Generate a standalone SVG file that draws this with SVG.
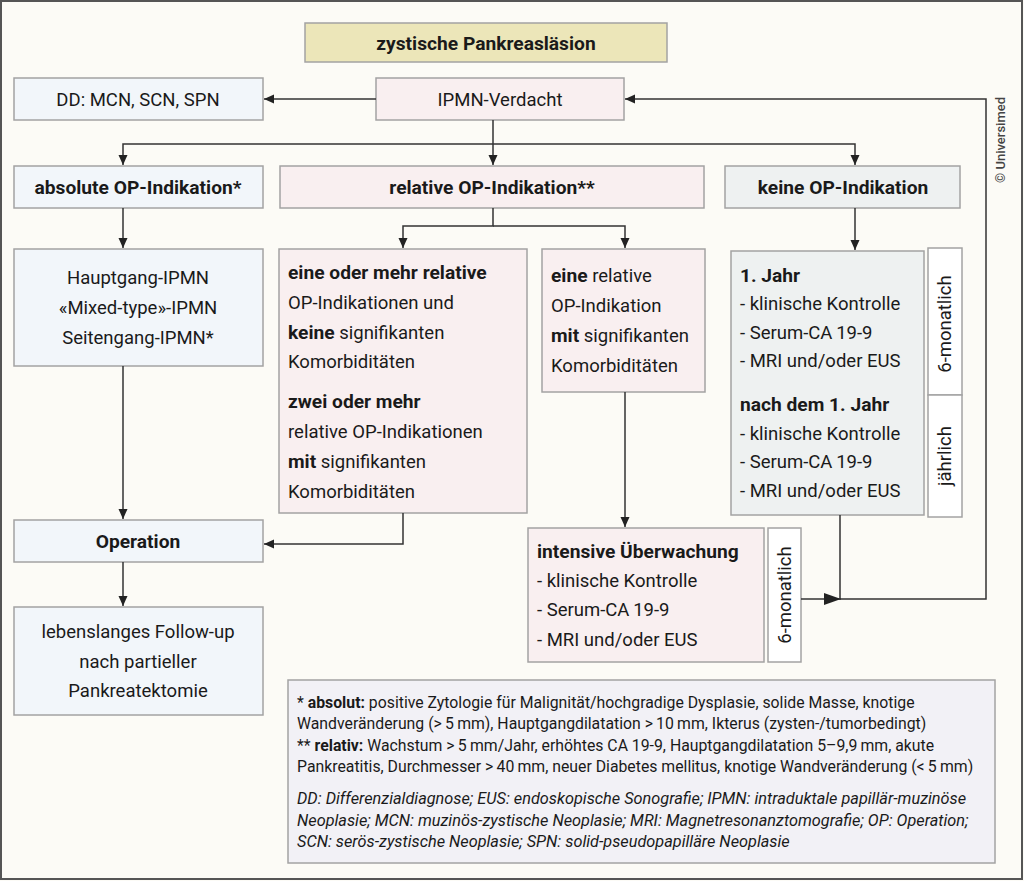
<svg xmlns="http://www.w3.org/2000/svg" width="1024" height="881" viewBox="0 0 1024 881">
<defs>
<marker id="ah" markerWidth="10" markerHeight="10" viewBox="0 0 10 10" refX="10" refY="5" orient="auto" markerUnits="userSpaceOnUse">
<path d="M0,0.5 L10,5 L0,9.5 z" fill="#222"/>
</marker>
<marker id="ahb" markerWidth="17" markerHeight="12" viewBox="0 0 17 12" refX="17" refY="6" orient="auto" markerUnits="userSpaceOnUse">
<path d="M0,0 L17,6 L0,12 z" fill="#222"/>
</marker>
<style>
text{font-family:Roboto,"Liberation Sans",sans-serif;fill:#1a1a1a;font-size:18.5px}
.b{font-weight:bold;font-size:19.2px}
.c{text-anchor:middle}
.box{stroke:#a3a3a3;stroke-width:1.5}
.blue{fill:#f2f6fa}
.pink{fill:#f9eff0}
.gray{fill:#eef1f1}
.white{fill:#ffffff}
.con path{fill:none;stroke:#333;stroke-width:1.5}
text.leg{font-size:15.8px}
text.leg .b{font-size:15.8px}
text.it{font-style:italic;font-size:16.3px}
</style>
</defs>
<rect x="0" y="0" width="1024" height="881" fill="#fcfbf6"/>
<rect x="1" y="1" width="1021" height="878" fill="none" stroke="#555" stroke-width="2"/>

<g id="title"><rect class="box" x="305" y="23" width="362" height="39" fill="#ece6b9"/><text class="b c" x="486" y="50">zystische Pankreasläsion</text></g>

<g id="dd"><rect class="box blue" x="14" y="78" width="249" height="42"/><text class="c" x="138" y="106">DD: MCN, SCN, SPN</text></g>
<g id="ipmn"><rect class="box pink" x="376" y="78" width="248" height="42"/><text class="c" x="500" y="106">IPMN-Verdacht</text></g>

<g id="absolute"><rect class="box blue" x="14" y="166" width="249" height="42"/><text class="b c" x="138" y="194">absolute OP-Indikation*</text></g>
<g id="relative"><rect class="box pink" x="280" y="166" width="424" height="42"/><text class="b c" x="492" y="194">relative OP-Indikation**</text></g>
<g id="keine"><rect class="box gray" x="725" y="166" width="235" height="42"/><text class="b c" x="843" y="194">keine OP-Indikation</text></g>

<g id="typen"><rect class="box blue" x="14" y="249" width="249" height="117"/>
<text class="c" x="138" y="284">Hauptgang-IPMN</text>
<text class="c" x="138" y="314">«Mixed-type»-IPMN</text>
<text class="c" x="138" y="344">Seitengang-IPMN*</text></g>

<g id="relmehr"><rect class="box pink" x="279" y="249" width="248" height="264"/>
<text x="288" y="279"><tspan class="b">eine oder mehr relative</tspan></text>
<text x="288" y="309">OP-Indikationen und</text>
<text x="288" y="339"><tspan class="b">keine</tspan> signifikanten</text>
<text x="288" y="368">Komorbiditäten</text>
<text x="288" y="408"><tspan class="b">zwei oder mehr</tspan></text>
<text x="288" y="438">relative OP-Indikationen</text>
<text x="288" y="468"><tspan class="b">mit</tspan> signifikanten</text>
<text x="288" y="498">Komorbiditäten</text></g>

<g id="releine"><rect class="box pink" x="542" y="249" width="163" height="143"/>
<text x="551" y="282"><tspan class="b">eine</tspan> relative</text>
<text x="551" y="312">OP-Indikation</text>
<text x="551" y="342"><tspan class="b">mit</tspan> signifikanten</text>
<text x="551" y="372">Komorbiditäten</text></g>

<g id="kontrolle"><rect class="box gray" x="731" y="251" width="193" height="264"/>
<text class="b" x="740" y="282">1. Jahr</text>
<text x="740" y="310">- klinische Kontrolle</text>
<text x="740" y="339">- Serum-CA&#8201;19-9</text>
<text x="740" y="367">- MRI und/oder EUS</text>
<text class="b" x="740" y="411">nach dem 1. Jahr</text>
<text x="740" y="440">- klinische Kontrolle</text>
<text x="740" y="468">- Serum-CA&#8201;19-9</text>
<text x="740" y="497">- MRI und/oder EUS</text></g>
<g id="sechsmonatlich1"><rect class="box white" x="928" y="248" width="34" height="147"/><text class="c" transform="translate(951,324) rotate(-90)">6-monatlich</text></g>
<g id="jaehrlich"><rect class="box white" x="928" y="395" width="34" height="122"/><text class="c" transform="translate(951,456) rotate(-90)">jährlich</text></g>

<g id="operation"><rect class="box blue" x="14" y="520" width="249" height="42"/><text class="b c" x="138" y="548">Operation</text></g>
<g id="followup"><rect class="box blue" x="14" y="607" width="249" height="108"/>
<text class="c" x="138" y="638">lebenslanges Follow-up</text>
<text class="c" x="138" y="668">nach partieller</text>
<text class="c" x="138" y="697">Pankreatektomie</text></g>

<g id="intensiv"><rect class="box pink" x="528" y="528" width="236" height="134"/>
<text class="b" x="537" y="558">intensive Überwachung</text>
<text x="537" y="587">- klinische Kontrolle</text>
<text x="537" y="616">- Serum-CA&#8201;19-9</text>
<text x="537" y="646">- MRI und/oder EUS</text></g>
<g id="sechsmonatlich2"><rect class="box white" x="768" y="528" width="33" height="134"/><text class="c" transform="translate(791,595) rotate(-90)">6-monatlich</text></g>

<g id="legende"><rect x="288" y="680" width="707" height="183" fill="#f2f1f6" stroke="#a3a3a3" stroke-width="1.5"/>
<text class="leg" x="297" y="708">* <tspan class="b">absolut:</tspan> positive Zytologie für Malignität/hochgradige Dysplasie, solide Masse, knotige</text>
<text class="leg" x="297" y="729">Wandveränderung (&gt;&#8201;5&#8201;mm), Hauptgangdilatation &gt;&#8201;10&#8201;mm, Ikterus (zysten-/tumorbedingt)</text>
<text class="leg" x="297" y="751">** <tspan class="b">relativ:</tspan> Wachstum &gt;&#8201;5&#8201;mm/Jahr, erhöhtes CA 19-9, Hauptgangdilatation 5–9,9&#8201;mm, akute</text>
<text class="leg" x="297" y="772">Pankreatitis, Durchmesser &gt;&#8201;40&#8201;mm, neuer Diabetes mellitus, knotige Wandveränderung (&lt;&#8201;5&#8201;mm)</text>
<text class="leg it" x="297" y="804">DD: Differenzialdiagnose; EUS: endoskopische Sonografie; IPMN: intraduktale papillär-muzinöse</text>
<text class="leg it" x="297" y="826">Neoplasie; MCN: muzinös-zystische Neoplasie; MRI: Magnetresonanztomografie; OP: Operation;</text>
<text class="leg it" x="297" y="847">SCN: serös-zystische Neoplasie; SPN: solid-pseudopapilläre Neoplasie</text></g>

<g id="copyright"><text style="font-size:13px;font-weight:500;fill:#444" text-anchor="middle" transform="translate(1005,140) rotate(-90)">© Universimed</text></g>

<g class="con" id="connectors">
<path d="M376,99 H264" marker-end="url(#ah)"/>
<path d="M493,120 V165" marker-end="url(#ah)"/>
<path d="M493,144 H123 V165" marker-end="url(#ah)"/>
<path d="M493,144 H855 V165" marker-end="url(#ah)"/>
<path d="M123,208 V248" marker-end="url(#ah)"/>
<path d="M493,208 V226 H403 V248" marker-end="url(#ah)"/>
<path d="M493,226 H625 V248" marker-end="url(#ah)"/>
<path d="M855,208 V250" marker-end="url(#ah)"/>
<path d="M123,366 V519" marker-end="url(#ah)"/>
<path d="M403,513 V544 H264" marker-end="url(#ah)"/>
<path d="M123,562 V606" marker-end="url(#ah)"/>
<path d="M625,392 V527" marker-end="url(#ah)"/>
<path d="M801,599 H841" marker-end="url(#ahb)"/>
<path d="M840,515 V599 H986 V99 H625" marker-end="url(#ah)"/>
</g>
</svg>
